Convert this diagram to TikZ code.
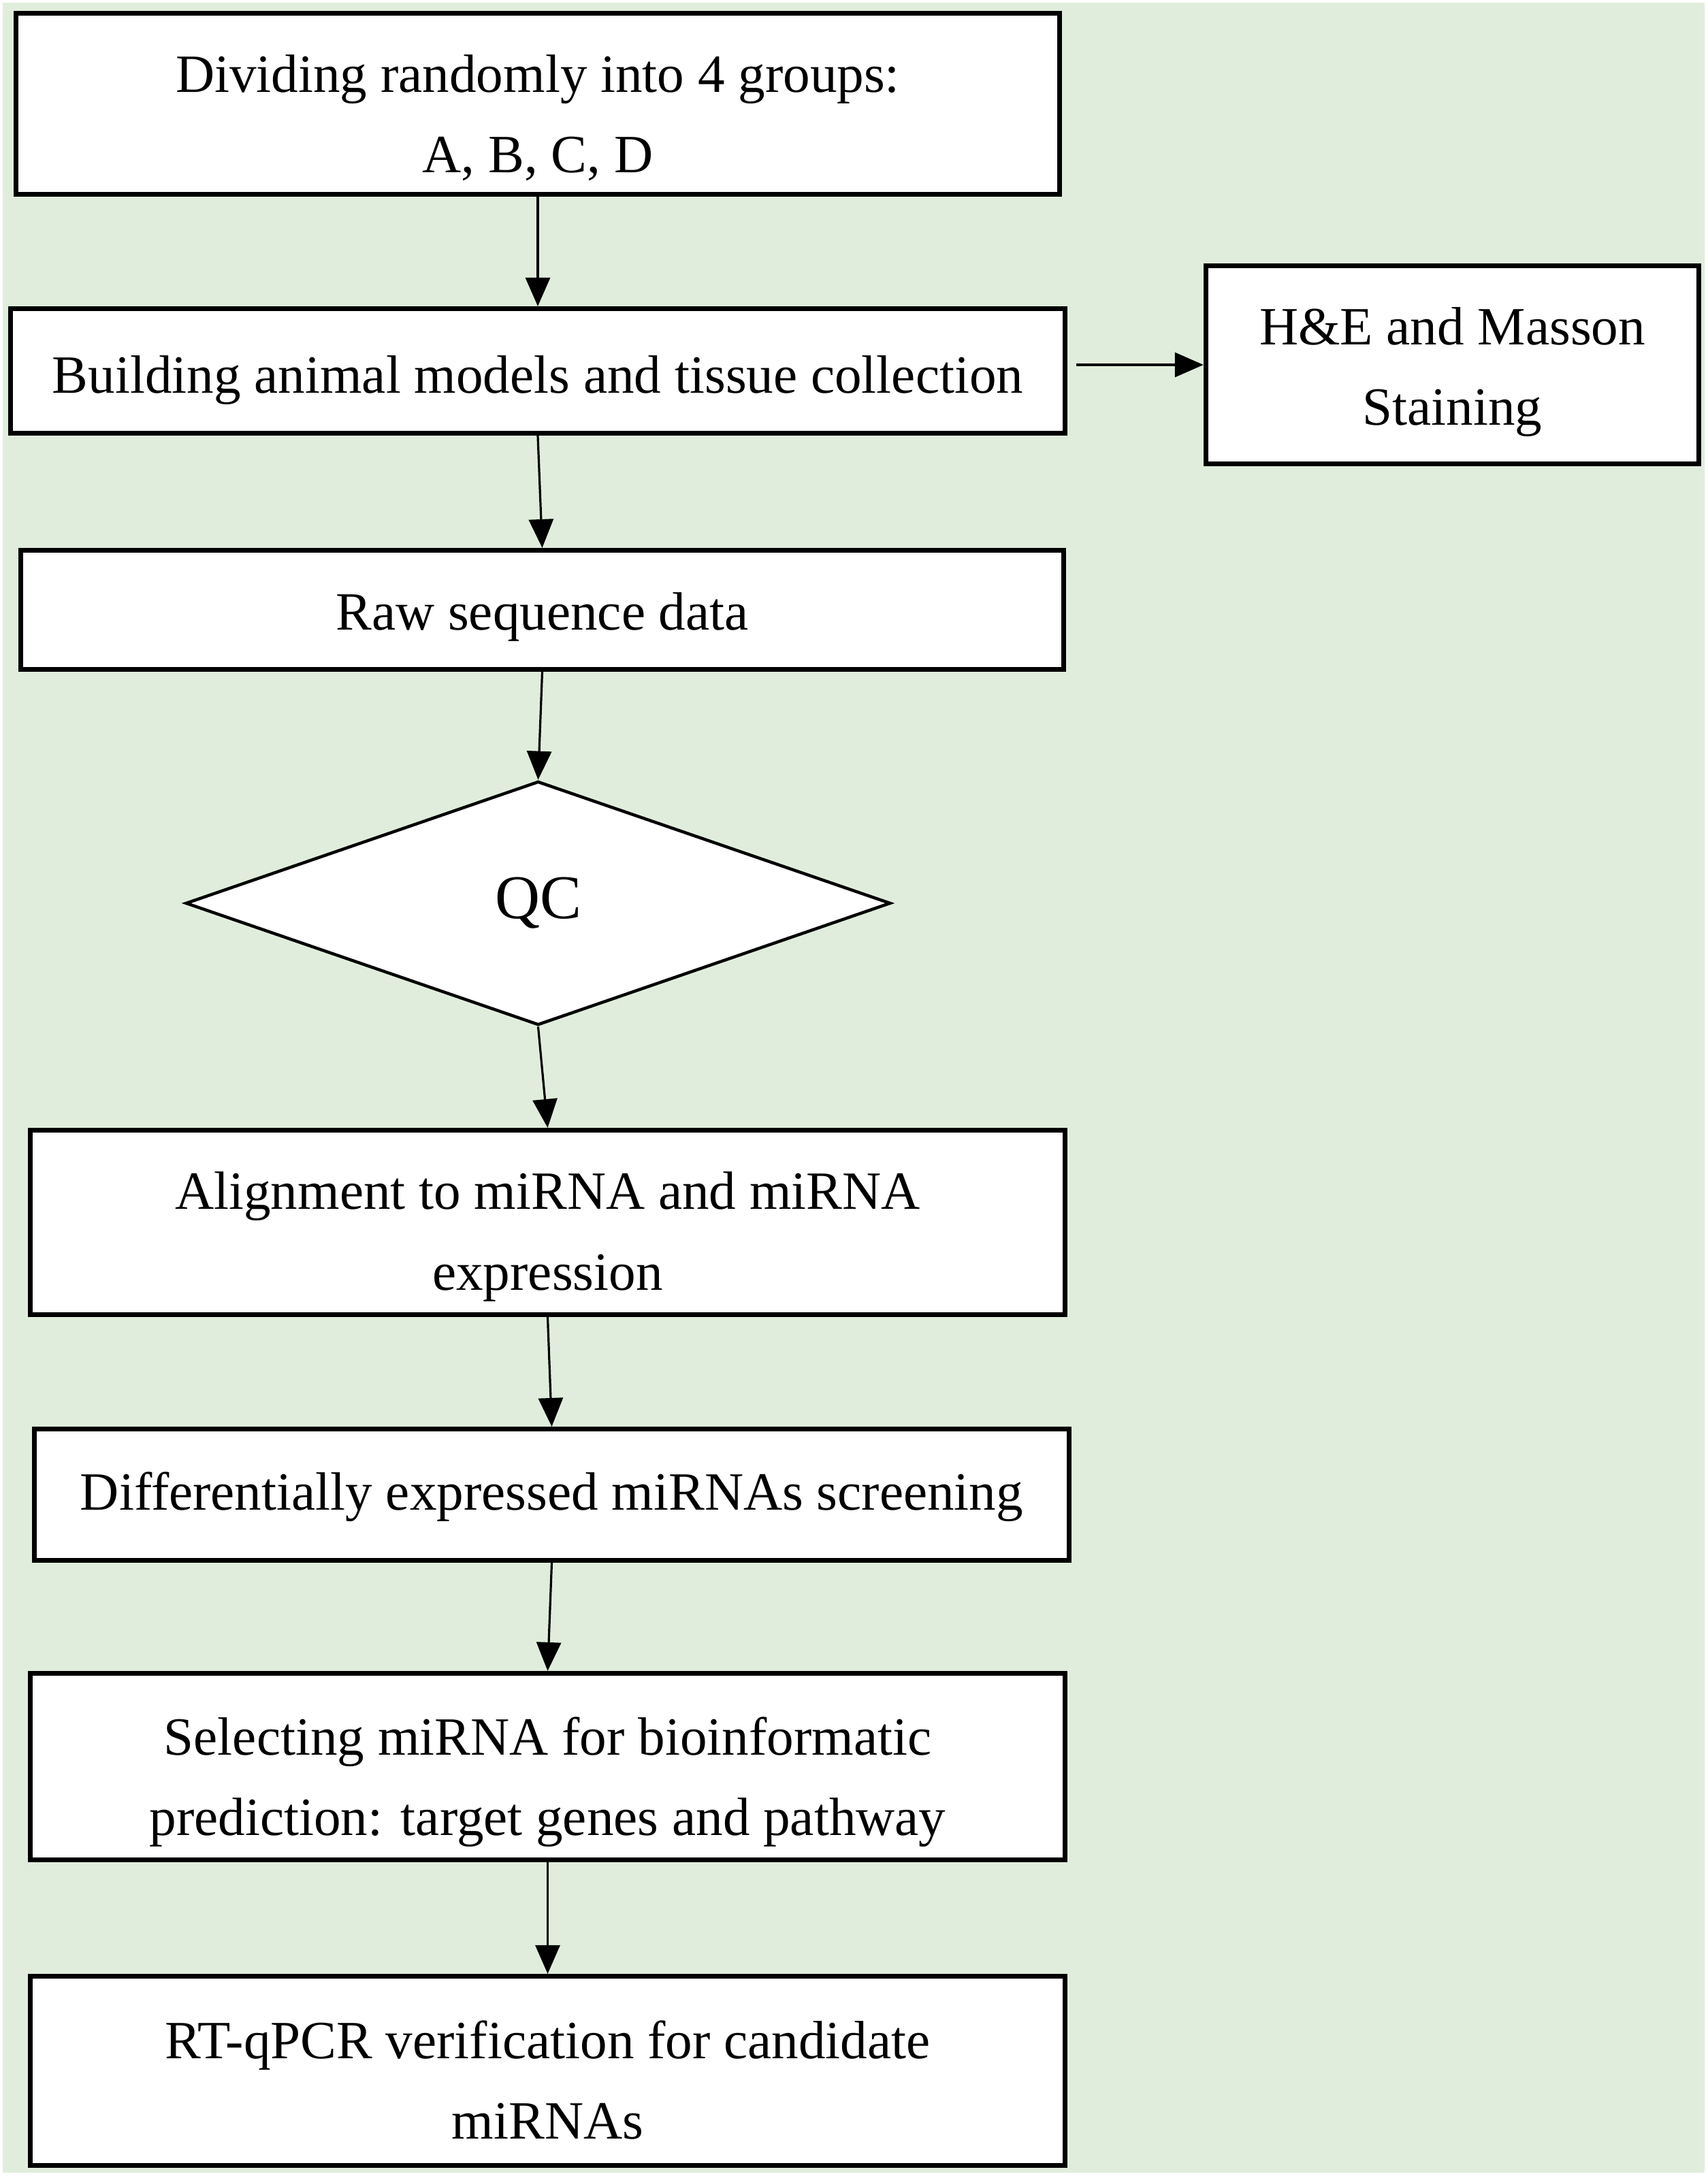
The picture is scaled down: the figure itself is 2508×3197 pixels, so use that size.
\documentclass[tikz,border=0pt]{standalone}
\usepackage{fontspec}
\setmainfont{Liberation Serif}
\usetikzlibrary{shapes.geometric,arrows.meta}
\definecolor{bggreen}{RGB}{224,237,220}
\newcommand\dnstrut[1]{\rule{0pt}{\dimexpr15.5pt+2\dimexpr#1\relax\relax}}
\tikzset{
  px/.style={x=0.01cm,y=-0.01cm},
  box/.style={draw=black,fill=white,line width=0.07cm,rectangle,inner sep=0pt,align=center,
    font=\fontsize{22.5pt}{33.6pt}\selectfont},
  qcbox/.style={draw=black,fill=white,line width=0.045cm,diamond,inner sep=0pt,
    font=\fontsize{26pt}{30pt}\selectfont},
  arr/.style={line width=0.032cm,-{Triangle[length=0.42cm,width=0.36cm]}},
}
\begin{document}
\begin{tikzpicture}[px]
\useasboundingbox (0,0) rectangle (2508,3197);
\fill[white] (0,0) rectangle (2508,3197);
\fill[bggreen] (4,4) rectangle (2504,3192);
\node[box,minimum width=15.33cm,minimum height=2.66cm] (b1) at (790,152.5) {\dnstrut{6pt}Dividing randomly into 4 groups:\\A, B, C, D};
\node[box,minimum width=15.49cm,minimum height=1.83cm] (b2) at (790,545) {\dnstrut{4pt}Building animal models and tissue collection};
\node[box,minimum width=7.24cm,minimum height=2.91cm] (he) at (2133.5,536) {\dnstrut{3pt}H\&E and Masson\\Staining};
\node[box,minimum width=15.32cm,minimum height=1.75cm] (b3) at (796.5,896) {\dnstrut{3pt}Raw sequence data};
\node[qcbox,minimum width=10.35cm,minimum height=3.58cm,aspect=2.87] (qc) at (790.5,1327) {QC};
\node[box,minimum width=15.20cm,minimum height=2.71cm] (b4) at (804.5,1796) {\dnstrut{6pt}Alignment to miRNA and miRNA\\expression};
\node[box,minimum width=15.20cm,minimum height=1.93cm] (b5) at (810.5,2196) {\dnstrut{1pt}Differentially expressed miRNAs screening};
\node[box,minimum width=15.20cm,minimum height=2.74cm] (b6) at (804.5,2595.5) {\dnstrut{6.5pt}Selecting miRNA for bioinformatic\\prediction: target genes and pathway};
\node[box,minimum width=15.20cm,minimum height=2.78cm] (b7) at (804.5,3042.5) {\dnstrut{4pt}RT-qPCR verification for candidate\\miRNAs};
\draw[arr] (b1.south) -- (b2.north);
\draw[arr] (b2.south) -- (b3.north);
\draw[arr] (b3.south) -- (qc.north);
\draw[arr] (qc.south) -- (b4.north);
\draw[arr] (b4.south) -- (b5.north);
\draw[arr] (b5.south) -- (b6.north);
\draw[arr] (b6.south) -- (b7.north);
\coordinate (hs) at ([xshift=0.13cm]b2.east |- he.west);
\draw[arr] (hs) -- (he.west);
\end{tikzpicture}
\end{document}
